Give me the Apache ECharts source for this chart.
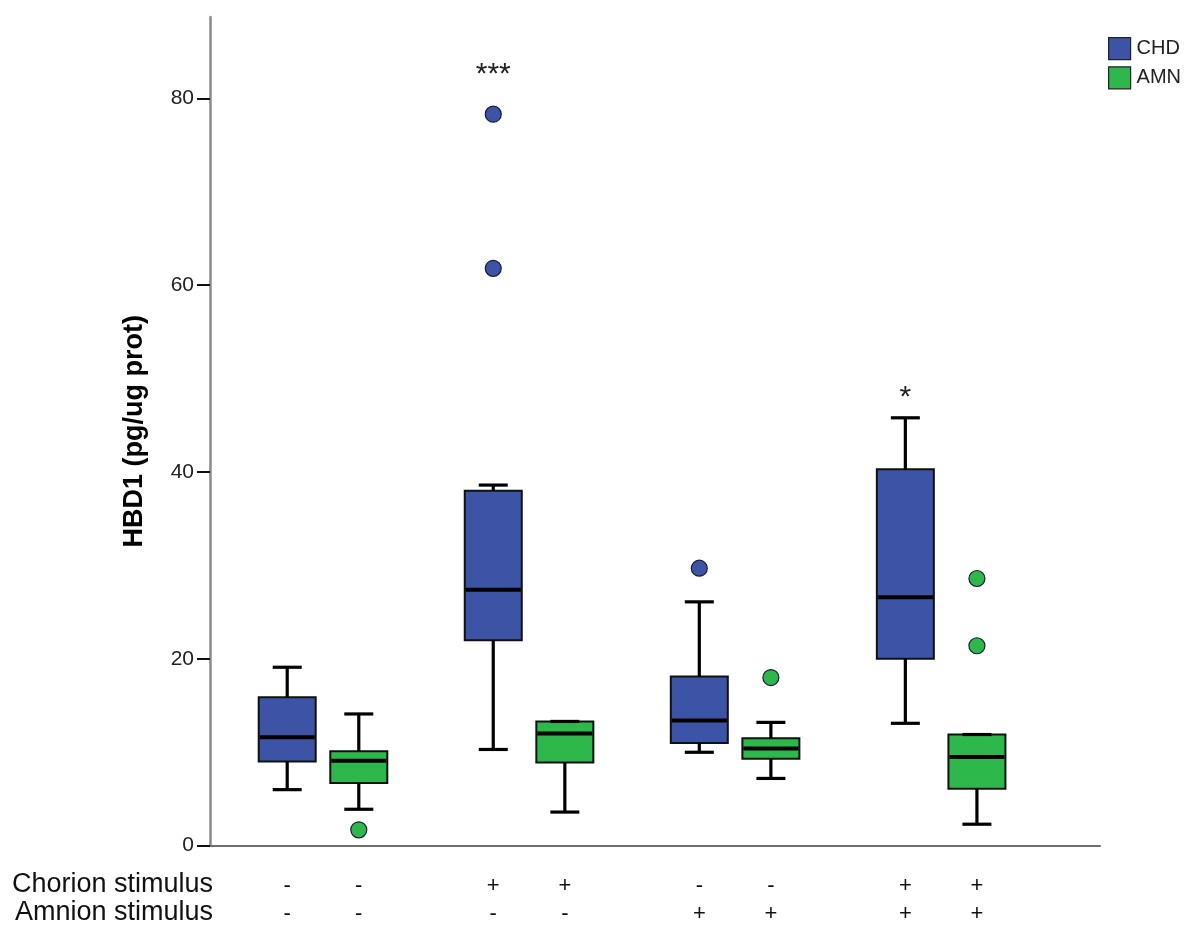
<!DOCTYPE html>
<html><head><meta charset="utf-8">
<script src="https://cdn.jsdelivr.net/npm/echarts@6/dist/echarts.min.js"></script>
<style>html,body{margin:0;padding:0;background:#fff}#c{width:1200px;height:929px}</style>
</head><body><div id="c"></div>
<script>
// ---- data ----
const groups = [1, 2, 3, 4];
const chorionStimulus = ['-', '+', '-', '+'];
const amnionStimulus = ['-', '-', '+', '+'];
const rowTitles = ['Chorion stimulus', 'Amnion stimulus'];
const seriesNames = ['CHD', 'AMN'];
// [group, min, Q1, median, Q3, max]
const chdBoxes = [
  [1, 6.0, 9.0, 11.6, 15.9, 19.1],
  [2, 10.3, 22.0, 27.4, 38.0, 38.6],
  [3, 10.0, 11.0, 13.4, 18.1, 26.1],
  [4, 13.1, 20.0, 26.6, 40.3, 45.8]
];
const amnBoxes = [
  [1, 3.9, 6.7, 9.1, 10.1, 14.1],
  [2, 3.6, 8.9, 12.0, 13.3, 13.3],
  [3, 7.2, 9.3, 10.4, 11.5, 13.2],
  [4, 2.3, 6.1, 9.5, 11.9, 11.9]
];
const chdOutliers = [[2, 78.3], [2, 61.8], [3, 29.7]];
const amnOutliers = [[1, 1.7], [3, 18.0], [4, 28.6], [4, 21.4]];
const significance = [[2, 82.5, '***'], [4, 47.9, '*']];
const yTicks = [0, 20, 40, 60, 80];

// ---- style ----
const COLORS = ['#3D54A6', '#2EB84C'];
const OFFSET = 0.1737;      // half distance between paired boxes, in group units
const BOX_W = 57, CAP_W = 29;
const SANS = '"Liberation Sans", Arial, sans-serif';

function boxRenderer(off, fill) {
  return function (params, api) {
    const g = api.value(0);
    const cx = api.coord([g + off, 0])[0];
    const y = i => api.coord([g, api.value(i)])[1];
    const yMin = y(1), yQ1 = y(2), yMed = y(3), yQ3 = y(4), yMax = y(5);
    const ls = {stroke: '#000', lineWidth: 3.2};
    return {type: 'group', children: [
      {type: 'rect', shape: {x: cx - BOX_W / 2, y: yQ3, width: BOX_W, height: yQ1 - yQ3},
        style: {fill: fill, stroke: '#111', lineWidth: 2}},
      {type: 'line', shape: {x1: cx, y1: yMax, x2: cx, y2: yQ3}, style: ls},
      {type: 'line', shape: {x1: cx, y1: yQ1, x2: cx, y2: yMin}, style: ls},
      {type: 'line', shape: {x1: cx - CAP_W / 2, y1: yMax, x2: cx + CAP_W / 2, y2: yMax}, style: ls},
      {type: 'line', shape: {x1: cx - CAP_W / 2, y1: yMin, x2: cx + CAP_W / 2, y2: yMin}, style: ls},
      {type: 'line', shape: {x1: cx - BOX_W / 2 + 1, y1: yMed, x2: cx + BOX_W / 2 - 1, y2: yMed},
        style: {stroke: '#000', lineWidth: 4}}
    ]};
  };
}
function outlierRenderer(off, fill) {
  return function (params, api) {
    const g = api.value(0);
    const p = api.coord([g + off, api.value(1)]);
    return {type: 'circle', shape: {cx: p[0], cy: p[1], r: 8},
      style: {fill: fill, stroke: '#1a1a3a', lineWidth: 1.2}};
  };
}
function stimulusRenderer(params, api) {
  const g = api.value(0);
  const i = params.dataIndex;
  const children = [];
  [-OFFSET, OFFSET].forEach(off => {
    const p = api.coord([g + off, 0]);
    [chorionStimulus[i], amnionStimulus[i]].forEach((t, r) => {
      children.push({type: 'text', x: p[0], y: p[1] + 40 + r * 28,
        style: {text: t, textAlign: 'center', textVerticalAlign: 'middle',
          font: '22px ' + SANS, fill: '#111'}});
    });
  });
  return {type: 'group', children: children};
}

const chart = echarts.init(document.getElementById('c'));
chart.setOption({
  animation: false,
  backgroundColor: '#fff',
  grid: {left: 210, right: 100, top: 17, bottom: 83.3},
  legend: {
    data: seriesNames.map(n => ({name: n, icon: 'rect'})),
    orient: 'vertical', left: 1108, top: 37, itemWidth: 22, itemHeight: 22, itemGap: 6,
    padding: 0, selectedMode: false,
    itemStyle: {borderColor: '#222', borderWidth: 1.2},
    textStyle: {fontSize: 20, fontFamily: SANS, color: '#222', padding: [0, 0, 0, 1]}
  },
  xAxis: {
    type: 'value', min: 0.4516, max: 4.771,
    splitLine: {show: false}, axisTick: {show: false}, axisLabel: {show: false},
    axisLine: {lineStyle: {color: '#6e6e6e', width: 2}}
  },
  yAxis: {
    type: 'value', min: 0, max: 88.7,
    name: 'HBD1 (pg/ug prot)', nameLocation: 'middle', nameRotate: 90, nameGap: 62,
    nameTextStyle: {fontSize: 27, fontWeight: 'bold', fontFamily: SANS, color: '#000'},
    splitLine: {show: false},
    axisLine: {lineStyle: {color: '#8a8a8a', width: 2.5}},
    axisTick: {customValues: yTicks, length: 13, lineStyle: {color: '#111', width: 2}},
    axisLabel: {customValues: yTicks, margin: 16, fontSize: 21, fontFamily: SANS, color: '#222'}
  },
  graphic: rowTitles.map((t, i) => ({
    type: 'text', x: 213, y: 885 + i * 28,
    style: {text: t, textAlign: 'right', textVerticalAlign: 'middle',
      font: '27px ' + SANS, fill: '#111'}
  })),
  series: [
    {name: 'CHD', type: 'custom', data: chdBoxes, encode: {x: 0, y: [1, 2, 3, 4, 5]},
      itemStyle: {color: COLORS[0]}, renderItem: boxRenderer(-OFFSET, COLORS[0])},
    {name: 'AMN', type: 'custom', data: amnBoxes, encode: {x: 0, y: [1, 2, 3, 4, 5]},
      itemStyle: {color: COLORS[1]}, renderItem: boxRenderer(OFFSET, COLORS[1])},
    {name: 'CHD outliers', type: 'custom', data: chdOutliers, encode: {x: 0, y: 1},
      renderItem: outlierRenderer(-OFFSET, COLORS[0])},
    {name: 'AMN outliers', type: 'custom', data: amnOutliers, encode: {x: 0, y: 1},
      renderItem: outlierRenderer(OFFSET, COLORS[1])},
    {name: 'stimulus', type: 'custom', data: groups.map(g => [g, 0]), encode: {x: 0, y: 1},
      clip: false, renderItem: stimulusRenderer},
    {name: 'significance', type: 'custom', data: significance, encode: {x: 0, y: 1},
      renderItem: function (params, api) {
        const g = api.value(0);
        const p = api.coord([g - OFFSET, api.value(1)]);
        return {type: 'text', x: p[0], y: p[1],
          style: {text: significance[params.dataIndex][2], textAlign: 'center',
            textVerticalAlign: 'middle', font: '30px ' + SANS, fill: '#222'}};
      }}
  ]
});
</script>
</body></html>
